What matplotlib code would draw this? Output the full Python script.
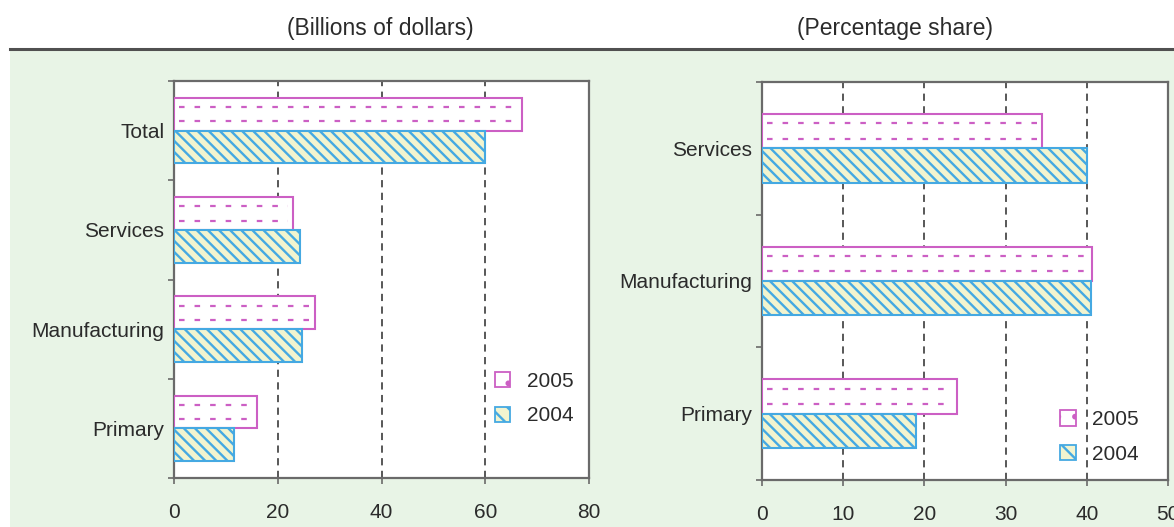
import matplotlib.pyplot as plt
from matplotlib.patches import Rectangle, Patch
from matplotlib.lines import Line2D
import numpy as np

plt.rcParams['font.family'] = ['Liberation Sans', 'DejaVu Sans']
plt.rcParams['hatch.linewidth'] = 1.7

# investment by sector, billions of dollars
sectors_usd = ["Total", "Services", "Manufacturing", "Primary"]
usd_2005 = [67, 23, 27.2, 16]
usd_2004 = [60, 24.2, 24.6, 11.5]

# percentage share by sector
sectors_pct = ["Services", "Manufacturing", "Primary"]
pct_2005 = [34.5, 40.7, 24.0]
pct_2004 = [40.0, 40.5, 19.0]

years = ["2005", "2004"]

PINK = '#cc5fc4'
BLUE = '#45a9e2'
CREAM = '#f2f4cf'
TXT = '#2b2b2b'
SPINE = '#6a6a6a'
HATCH04 = '\\' * 3

fig = plt.figure(figsize=(11.74, 5.27), dpi=100)
fig.patch.set_facecolor('white')

# green panel and rule under the headings
fig.patches.append(Rectangle((10 / 1174, 0), 1, 1 - 49 / 527, transform=fig.transFigure,
                             facecolor='#e8f4e6', edgecolor='none', zorder=-10))
fig.add_artist(Line2D([10 / 1174, 1], [1 - 48.5 / 527] * 2, color='#505050', lw=2.2))

fig.text(380 / 1174, 1 - 28 / 527, "(Billions of dollars)", ha='center', va='center',
         fontsize=16.5, color=TXT)
fig.text(895 / 1174, 1 - 28 / 527, "(Percentage share)", ha='center', va='center',
         fontsize=16.5, color=TXT)


def draw_panel(ax, cats, v05, v04, xmax, step, bar_h, leg_anchor):
    y = np.arange(len(cats))
    ax.set_facecolor('white')
    ax.barh(y - bar_h / 2, v05, height=bar_h, color='white', edgecolor=PINK,
            lw=1.5, zorder=3)
    # dashed rows inside the 2005 bars
    for yy, v in zip(y, v05):
        for off in (-0.28, -0.72):
            ax.hlines(yy + off * bar_h, 0.012 * xmax, v - 0.012 * xmax, colors=PINK,
                      linestyles=(0, (2.5, 4.5)), lw=1.6, zorder=4)
    ax.barh(y + bar_h / 2, v04, height=bar_h, color=CREAM, edgecolor=BLUE,
            hatch=HATCH04, lw=1.5, zorder=3)

    ax.set_xlim(0, xmax)
    ax.set_ylim(len(cats) - 0.5, -0.5)
    ax.set_xticks(np.arange(0, xmax + 1, step))
    ax.set_yticks(y)
    ax.set_yticklabels(cats)
    ax.set_yticks(np.arange(len(cats) + 1) - 0.5, minor=True)
    ax.tick_params(axis='y', which='major', length=0, pad=7, labelsize=15, labelcolor=TXT)
    ax.tick_params(axis='y', which='minor', length=4, width=1.2, color=SPINE, direction='out')
    ax.tick_params(axis='x', length=4, width=1.2, color=SPINE, pad=14, labelsize=15,
                   labelcolor=TXT)
    for gx in np.arange(step, xmax, step):
        ax.axvline(gx, color='#4a4a4a', lw=1.3, ls=(0, (4, 3)), zorder=1)
    for s in ax.spines.values():
        s.set_color(SPINE)
        s.set_linewidth(1.6)

    handles = [Patch(facecolor='white', edgecolor=PINK, hatch='.', lw=1.3),
               Patch(facecolor=CREAM, edgecolor=BLUE, hatch='\\\\', lw=1.3)]
    ax.legend(handles, years, loc='center left', bbox_to_anchor=leg_anchor, frameon=False,
              fontsize=15, handlelength=0.75, handleheight=0.75, handletextpad=0.8,
              labelspacing=0.75, borderpad=0, borderaxespad=0, labelcolor=TXT)


ax1 = fig.add_axes([174 / 1174, 1 - 478 / 527, 415 / 1174, 397 / 527])
draw_panel(ax1, sectors_usd, usd_2005, usd_2004, 80, 20, 0.33, (0.773, 0.20))

ax2 = fig.add_axes([762 / 1174, 1 - 480 / 527, 406 / 1174, 398 / 527])
draw_panel(ax2, sectors_pct, pct_2005, pct_2004, 50, 10, 0.26, (0.734, 0.108))

fig.savefig('out.png', dpi=100)
